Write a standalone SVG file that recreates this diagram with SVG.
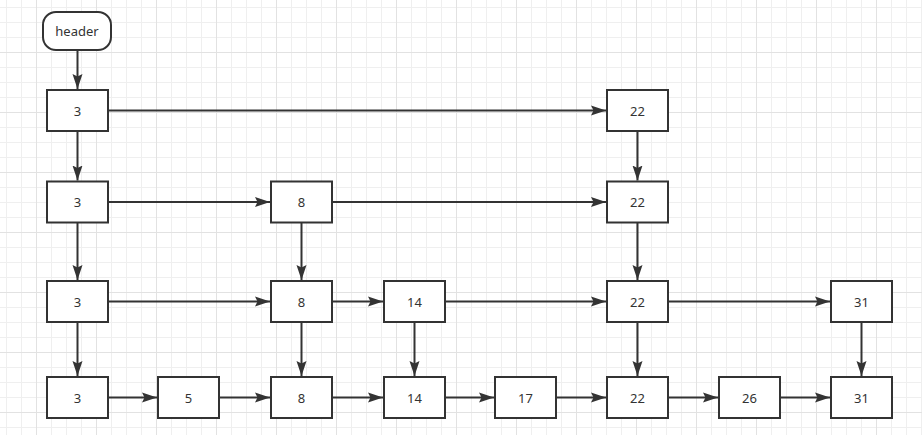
<svg xmlns="http://www.w3.org/2000/svg" width="922" height="435" viewBox="0 0 922 435">
<defs>
<pattern id="gMinor" patternUnits="userSpaceOnUse" x="6" y="7" width="15" height="15">
<path d="M0 0.5H15M0.5 0V15" stroke="#efefef" stroke-width="1" fill="none"/>
</pattern>
<pattern id="gMajor" patternUnits="userSpaceOnUse" x="36" y="52" width="60" height="60">
<path d="M0 0.5H60M0.5 0V60" stroke="#e2e2e2" stroke-width="1" fill="none"/>
</pattern>
<marker id="arr" markerUnits="userSpaceOnUse" markerWidth="16" markerHeight="12" refX="15" refY="5.5" orient="auto">
<path d="M0,0.5 L15,5.5 L0,10.5 L2.5,5.5 Z" fill="#333333"/>
</marker>
<style>
.n rect{fill:#ffffff;stroke:#333333;stroke-width:2}
.n text{font-family:"Noto Sans","Liberation Sans",sans-serif;font-size:13px;fill:#333333;text-anchor:middle;dominant-baseline:central}
.e path{stroke:#333333;stroke-width:2;fill:none;marker-end:url(#arr)}
</style>
</defs>
<rect width="922" height="435" fill="#ffffff"/>
<rect width="922" height="435" fill="url(#gMinor)"/>
<rect width="922" height="435" fill="url(#gMajor)"/>

<g id="connectors" class="e">
<path d="M77.5 51V89"/>
<path d="M108.5 110.5H606"/>
<path d="M77.5 131.5V180.5"/>
<path d="M637.5 131.5V180.5"/>
<path d="M108.5 202H270"/>
<path d="M332.5 202H606"/>
<path d="M77.5 223V280"/>
<path d="M301.5 223V280"/>
<path d="M637.5 223V280"/>
<path d="M108.5 301.5H270"/>
<path d="M332.5 301.5H383"/>
<path d="M445.5 301.5H606"/>
<path d="M668.5 301.5H830"/>
<path d="M77.5 322.5V376"/>
<path d="M301.5 322.5V376"/>
<path d="M414.5 322.5V376"/>
<path d="M637.5 322.5V376"/>
<path d="M861.5 322.5V376"/>
<path d="M108.5 397.5H157"/>
<path d="M219.5 397.5H270"/>
<path d="M332.5 397.5H383"/>
<path d="M445.5 397.5H494"/>
<path d="M556.5 397.5H606"/>
<path d="M668.5 397.5H718"/>
<path d="M780.5 397.5H830"/>
</g>

<g id="header" class="n"><rect x="43" y="12" width="68" height="38" rx="13" ry="13"/><text x="77" y="31">header</text></g>

<g id="r1_3" class="n"><rect x="47" y="90" width="61" height="41"/><text x="77.5" y="110.5">3</text></g>
<g id="r1_22" class="n"><rect x="607" y="90" width="61" height="41"/><text x="637.5" y="110.5">22</text></g>

<g id="r2_3" class="n"><rect x="47" y="181.5" width="61" height="41"/><text x="77.5" y="202">3</text></g>
<g id="r2_8" class="n"><rect x="271" y="181.5" width="61" height="41"/><text x="301.5" y="202">8</text></g>
<g id="r2_22" class="n"><rect x="607" y="181.5" width="61" height="41"/><text x="637.5" y="202">22</text></g>

<g id="r3_3" class="n"><rect x="47" y="281" width="61" height="41"/><text x="77.5" y="301.5">3</text></g>
<g id="r3_8" class="n"><rect x="271" y="281" width="61" height="41"/><text x="301.5" y="301.5">8</text></g>
<g id="r3_14" class="n"><rect x="384" y="281" width="61" height="41"/><text x="414.5" y="301.5">14</text></g>
<g id="r3_22" class="n"><rect x="607" y="281" width="61" height="41"/><text x="637.5" y="301.5">22</text></g>
<g id="r3_31" class="n"><rect x="831" y="281" width="61" height="41"/><text x="861.5" y="301.5">31</text></g>

<g id="r4_3" class="n"><rect x="47" y="377" width="61" height="41"/><text x="77.5" y="397.5">3</text></g>
<g id="r4_5" class="n"><rect x="158" y="377" width="61" height="41"/><text x="188.5" y="397.5">5</text></g>
<g id="r4_8" class="n"><rect x="271" y="377" width="61" height="41"/><text x="301.5" y="397.5">8</text></g>
<g id="r4_14" class="n"><rect x="384" y="377" width="61" height="41"/><text x="414.5" y="397.5">14</text></g>
<g id="r4_17" class="n"><rect x="495" y="377" width="61" height="41"/><text x="525.5" y="397.5">17</text></g>
<g id="r4_22" class="n"><rect x="607" y="377" width="61" height="41"/><text x="637.5" y="397.5">22</text></g>
<g id="r4_26" class="n"><rect x="719" y="377" width="61" height="41"/><text x="749.5" y="397.5">26</text></g>
<g id="r4_31" class="n"><rect x="831" y="377" width="61" height="41"/><text x="861.5" y="397.5">31</text></g>
</svg>
